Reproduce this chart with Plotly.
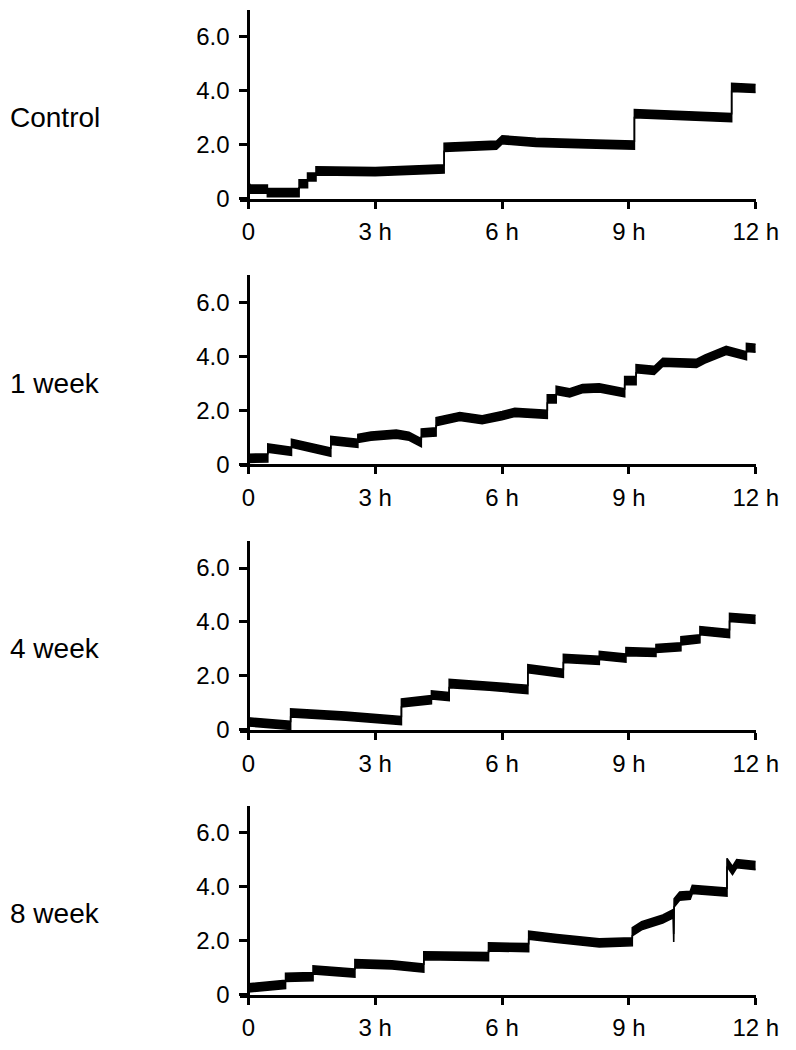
import numpy as np
import plotly.graph_objects as go

# ---------------- data ----------------
panel_labels = ["Control", "1 week", "4 week", "8 week"]
x_tick_vals = [0, 3, 6, 9, 12]
x_tick_text = ["0", "3 h", "6 h", "9 h", "12 h"]
y_tick_vals = [0, 2, 4, 6]
y_tick_text = ["0", "2.0", "4.0", "6.0"]

control_t = [0, 0.05, 0.45, 0.45, 1.2, 1.2, 1.4, 1.4, 1.6, 1.6, 3.0, 4.63, 4.63,
             5.87, 6.0, 6.8, 8.0, 9.13, 9.13, 10.3, 11.43, 11.43, 12.0]
control_v = [0.45, 0.35, 0.35, 0.22, 0.22, 0.55, 0.55, 0.8, 0.8, 1.03, 1.0, 1.1, 1.9,
             1.98, 2.18, 2.08, 2.03, 1.98, 3.15, 3.07, 3.0, 4.12, 4.08]

week1_t = [0, 0.46, 0.46, 1.02, 1.02, 1.95, 1.95, 2.59, 2.59, 2.9, 3.5, 3.8, 4.09, 4.09,
           4.44, 4.44, 5.0, 5.53, 6.0, 6.3, 7.07, 7.07, 7.28, 7.28, 7.6, 7.9, 8.3, 8.9,
           8.9, 9.17, 9.17, 9.6, 9.8, 10.6, 10.8, 11.3, 11.78, 11.78, 12.0]
week1_v = [0.22, 0.24, 0.6, 0.48, 0.78, 0.45, 0.88, 0.78, 0.96, 1.04, 1.12, 1.04, 0.8, 1.16,
           1.2, 1.58, 1.77, 1.65, 1.8, 1.92, 1.85, 2.42, 2.42, 2.74, 2.65, 2.8, 2.83, 2.65,
           3.1, 3.1, 3.54, 3.48, 3.78, 3.74, 3.9, 4.22, 4.02, 4.33, 4.3]

week4_t = [0, 1.0, 1.0, 2.3, 3.62, 3.62, 4.33, 4.33, 4.75, 4.75, 5.7, 6.61, 6.61,
           7.45, 7.45, 8.3, 8.3, 8.93, 8.93, 9.64, 9.64, 10.23, 10.23, 10.68, 10.68,
           11.38, 11.38, 12.0]
week4_v = [0.3, 0.17, 0.63, 0.51, 0.35, 1.0, 1.12, 1.3, 1.24, 1.72, 1.62, 1.5, 2.27,
           2.1, 2.65, 2.58, 2.76, 2.66, 2.9, 2.87, 3.02, 3.08, 3.3, 3.38, 3.68,
           3.57, 4.17, 4.1]

week8_t = [0, 0.88, 0.88, 1.53, 1.53, 2.52, 2.52, 3.4, 4.15, 4.15, 5.68, 5.68, 6.63,
           6.63, 7.3, 8.3, 9.08, 9.08, 9.3, 9.8, 10.05, 10.06, 10.07, 10.2, 10.45, 10.5,
           11.32, 11.32, 11.45, 11.55, 12.0]
week8_v = [0.25, 0.38, 0.64, 0.67, 0.92, 0.8, 1.15, 1.1, 0.98, 1.44, 1.41, 1.77, 1.74,
           2.2, 2.08, 1.92, 1.96, 2.33, 2.55, 2.8, 3.0, 2.1, 3.4, 3.65, 3.68, 3.9,
           3.8, 4.9, 4.6, 4.85, 4.78]

series_t = [control_t, week1_t, week4_t, week8_t]
series_v = [control_v, week1_v, week4_v, week8_v]

# ---------------- styling / layout ----------------
W, H = 796, 1050
FONT = "Liberation Sans, Arial, sans-serif"
noise_half = 0.15           # visual half-thickness of the noisy trace band
axis_bottoms_px = [193, 462, 731, 999]
plot_h_px = 191.3
x_left_px, x_right_px, x0_px = 239, 770, 247.5
x_span = 12.0 / (x_right_px - x0_px)
x_range = [-(x0_px - x_left_px) * x_span, 12.0]

fig = go.Figure()
layout = dict(
    width=W, height=H, margin=dict(l=0, r=0, t=0, b=0),
    paper_bgcolor="white", plot_bgcolor="white", showlegend=False,
    font=dict(family=FONT, color="black"),
)
annotations = []

for i in range(4):
    n = "" if i == 0 else str(i + 1)
    xa, ya = "x" + n, "y" + n
    t = np.array(series_t[i])
    v = np.array(series_v[i])
    fig.add_trace(go.Scatter(x=t, y=v - noise_half, mode="lines",
                             line=dict(color="black", width=1.6),
                             xaxis=xa, yaxis=ya, hoverinfo="skip"))
    fig.add_trace(go.Scatter(x=t, y=v + noise_half, mode="lines",
                             line=dict(color="black", width=1.6),
                             fill="tonexty", fillcolor="black",
                             xaxis=xa, yaxis=ya, hoverinfo="skip"))

    bottom = axis_bottoms_px[i]
    top = bottom - plot_h_px
    layout["xaxis" + n] = dict(
        domain=[x_left_px / W, x_right_px / W], range=x_range, anchor=ya,
        showgrid=False, zeroline=False, showline=True, linecolor="black", linewidth=3,
        ticks="outside", ticklen=7, tickwidth=3, tickcolor="black",
        tickvals=x_tick_vals, ticktext=x_tick_text,
        tickfont=dict(size=24, family=FONT, color="black"),
        ticklabelstandoff=3,
    )
    layout["yaxis" + n] = dict(
        domain=[1 - bottom / H, 1 - top / H], range=[0, 7], anchor="free",
        position=x0_px / W,
        showgrid=False, zeroline=False, showline=True, linecolor="black", linewidth=3,
        ticks="outside", ticklen=8, tickwidth=3, tickcolor="black",
        tickvals=y_tick_vals, ticktext=y_tick_text,
        tickfont=dict(size=24, family=FONT, color="black"),
        ticklabelstandoff=5,
    )
    annotations.append(dict(
        text=panel_labels[i], x=0.0, xref="paper", xanchor="left",
        y=3.0, yref=ya, yanchor="middle", showarrow=False,
        font=dict(size=28, family=FONT, color="black"),
    ))

layout["annotations"] = annotations
fig.update_layout(**layout)
fig.write_html("out.html")
